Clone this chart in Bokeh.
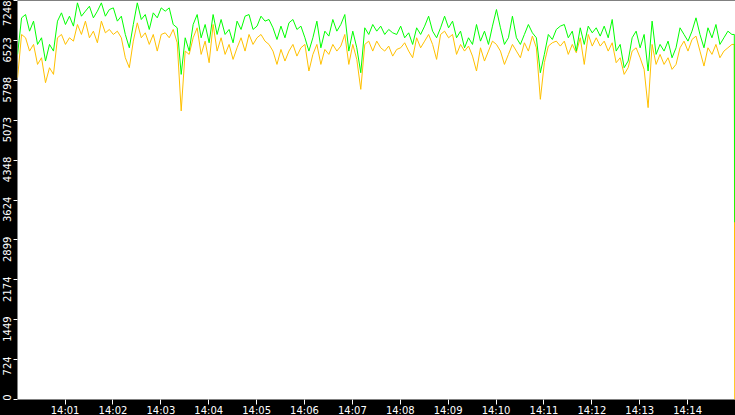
import pandas as pd
from bokeh.plotting import figure
from bokeh.models import FixedTicker, DatetimeTickFormatter, Range1d, ColumnDataSource
from bokeh.embed import file_html
from bokeh.resources import INLINE

# ---- data (one sample every 5 s) ----
green_values = [
    6269, 6933, 6993, 6691, 6873, 6450, 6571, 6148, 6450, 6329,
    6873, 7024, 6812, 6963, 6782, 7205, 6963, 7054, 7144, 6933,
    7054, 7205, 6963, 7084, 7114, 6873, 6963, 6631, 6389, 6812,
    7205, 6903, 6993, 6722, 7024, 6933, 7114, 7054, 7114, 6812,
    6752, 5906, 6571, 6329, 6812, 6993, 6571, 6812, 6480, 6993,
    6631, 6903, 6631, 6722, 6480, 6873, 6722, 6963, 6993, 6722,
    6782, 6963, 6873, 6903, 6752, 6540, 6782, 6571, 6842, 6903,
    6722, 6782, 6571, 6329, 6571, 6873, 6389, 6691, 6601, 6903,
    6691, 6812, 6993, 6329, 6691, 6389, 5936, 6752, 6631, 6812,
    6691, 6782, 6631, 6722, 6661, 6631, 6782, 6571, 6661, 6450,
    6752, 6631, 6782, 6963, 6691, 6571, 6752, 6963, 6752, 6873,
    6571, 6691, 6389, 6571, 6450, 6812, 6510, 6691, 6450, 6782,
    7084, 6752, 6450, 6571, 6963, 6571, 6450, 6631, 6812, 6661,
    6571, 5936, 6269, 6631, 6540, 6722, 6782, 6812, 6571, 6691,
    6329, 6752, 6450, 6782, 6661, 6752, 6601, 6782, 6571, 6903,
    6329, 6450, 6027, 6148, 6571, 6691, 6389, 6631, 5967, 6873,
    6269, 6450, 6329, 6510, 6208, 6389, 6752, 6631, 6510, 6691,
    6933, 6631, 6389, 6752, 6571, 6812, 6450, 6571, 6691, 6631,
    6631, 3220,
]
amber_values = [
    5846, 6631, 6571, 6329, 6450, 6087, 6208, 5755, 6027, 5906,
    6571, 6631, 6450, 6571, 6510, 6812, 6631, 6873, 6571, 6691,
    6480, 6873, 6661, 6722, 6631, 6691, 6571, 6208, 6027, 6510,
    6842, 6571, 6661, 6450, 6631, 6329, 6631, 6661, 6571, 6722,
    6480, 5242, 6329, 6269, 6571, 6752, 6269, 6510, 6118, 6812,
    6329, 6571, 6269, 6450, 6178, 6389, 6571, 6329, 6631, 6450,
    6571, 6631, 6510, 6450, 6329, 6087, 6359, 6148, 6329, 6450,
    6238, 6389, 6450, 5967, 6269, 6450, 6087, 6359, 6269, 6450,
    6329, 6420, 6631, 6087, 6450, 6178, 5634, 6450, 6510, 6329,
    6510, 6389, 6329, 6420, 6238, 6359, 6389, 6480, 6329, 6208,
    6571, 6389, 6510, 6631, 6450, 6178, 6631, 6691, 6571, 6631,
    6269, 6450, 6329, 6420, 6238, 5967, 6389, 6148, 6329, 6510,
    6450, 6329, 6087, 6269, 6450, 6329, 6208, 6480, 6329, 6601,
    6389, 5453, 6118, 6420, 6480, 6510, 6420, 6510, 6269, 6450,
    6299, 6571, 6087, 6631, 6420, 6571, 6420, 6510, 6329, 6480,
    6118, 6208, 5906, 6027, 6329, 6389, 6208, 5997, 5302, 6450,
    6087, 6269, 6087, 6208, 5997, 6087, 6389, 6510, 6329, 6540,
    6601, 6329, 6057, 6389, 6269, 6450, 6208, 6329, 6389, 6450,
    6450, 0,
]
y_tick_values = [0, 724.8, 1449.6, 2174.4, 2899.2, 3624.0, 4348.8, 5073.6, 5798.4, 6523.2, 7248.0]
y_tick_labels = ["0", "724", "1449", "2174", "2899", "3624", "4348", "5073", "5798", "6523", "7248"]
x_tick_labels = ["14:01", "14:02", "14:03", "14:04", "14:05", "14:06", "14:07",
                 "14:08", "14:09", "14:10", "14:11", "14:12", "14:13", "14:14"]

day = "2024-05-01 "
times = list(pd.date_range(day + "14:00:00.5", periods=len(green_values) - 2, freq="5s"))
times.append(pd.Timestamp(day + "14:14:58.5"))
times.append(pd.Timestamp(day + "14:14:59.0"))

src = ColumnDataSource(dict(t=times, green=green_values, amber=amber_values))

W, H = 735, 418
p = figure(width=W, height=H, x_axis_type="datetime", output_backend="svg",
           toolbar_location=None, min_border=0, min_border_left=0, min_border_bottom=0,
           min_border_top=0, min_border_right=0,
           x_range=Range1d(pd.Timestamp(day + "14:00:00.4"), pd.Timestamp(day + "14:15:00")),
           y_range=Range1d(0, 7248))
p.background_fill_color = "white"
p.border_fill_color = "black"
p.outline_line_color = None
p.grid.visible = False

p.line("t", "amber", source=src, line_color="#FFC000", line_width=1)
p.line("t", "green", source=src, line_color="#00FF00", line_width=1)

# x axis
x_ticks = [pd.Timestamp(day + s).value / 1e6 for s in x_tick_labels]
xa = p.xaxis[0]
xa.ticker = FixedTicker(ticks=x_ticks)
fmt = "%H:%M"
xa.formatter = DatetimeTickFormatter(seconds=fmt, minsec=fmt, minutes=fmt, hourmin=fmt, hours=fmt)
xa.axis_line_color = None
xa.major_tick_line_color = "white"
xa.major_tick_out = 5
xa.major_tick_in = 0
xa.minor_tick_line_color = None
xa.major_label_standoff = 0
xa.major_label_text_color = "white"
xa.major_label_text_font = "DejaVu Sans"
xa.major_label_text_font_size = "10px"

# y axis: labels sit just below their tick, tick marks drawn as minor ticks
upp = 7248 / 400.0
label_pos = []
for v, s in zip(y_tick_values, y_tick_labels):
    label_pos.append(max(v + (3 - 3.1 * len(s)) * upp, 33.0))
ya = p.yaxis[0]
ya.ticker = FixedTicker(ticks=label_pos, minor_ticks=y_tick_values)
ya.major_label_overrides = {pos: s for pos, s in zip(label_pos, y_tick_labels)}
ya.axis_line_color = None
ya.major_tick_line_color = None
ya.minor_tick_line_color = "white"
ya.minor_tick_out = 4
ya.minor_tick_in = 0
ya.major_label_standoff = 0
ya.major_label_orientation = "vertical"
ya.major_label_text_color = "white"
ya.major_label_text_font = "DejaVu Sans"
ya.major_label_text_font_size = "10px"

html = file_html(p, INLINE)
html = html.replace("<head>", "<head><style>html,body{margin:0;padding:0;background:#000;overflow:hidden;}</style>", 1)
open("out.html", "w").write(html)
